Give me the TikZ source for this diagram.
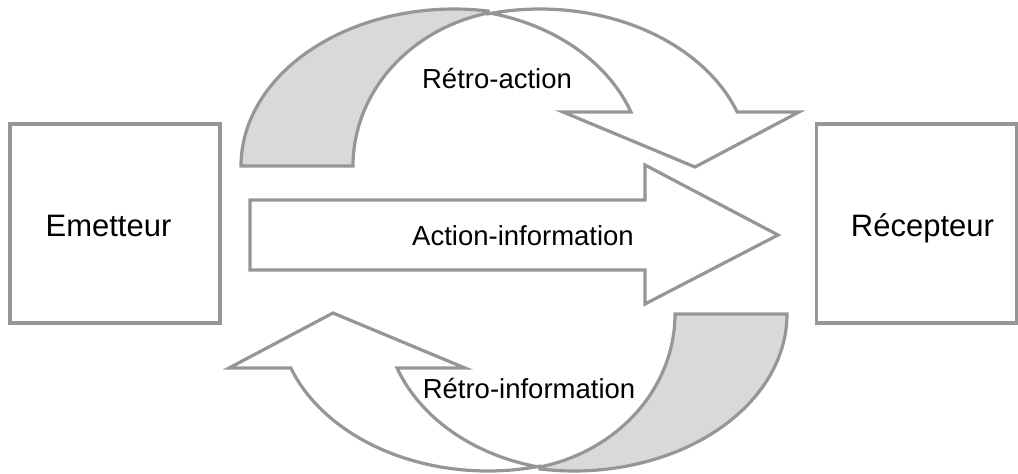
\documentclass[tikz,border=0pt]{standalone}
\usepackage{fontspec}
\setmainfont{Liberation Sans}
\definecolor{edgegray}{RGB}{150,150,150}
\definecolor{shadegray}{RGB}{217,217,217}
\begin{document}
\begin{tikzpicture}[x=1pt,y=-1pt,
  outline/.style={draw=edgegray,line width=3.2pt,line join=miter},
  backband/.style={outline,fill=shadegray},
  frontband/.style={outline,fill=white},
  boxnode/.style={outline,fill=white,minimum width=210pt,minimum height=199pt,inner sep=0pt},
  boxlabel/.style={anchor=base,inner sep=0pt,font=\fontsize{31}{37}\selectfont},
  arrowlabel/.style={anchor=base,inner sep=0pt,font=\fontsize{27.5}{33}\selectfont}]
\useasboundingbox (0,0) rectangle (1018,474);

% boxes
\node[boxnode] (emetteur) at (115,223.5) {};
\node[boxnode,minimum width=199.5pt] (recepteur) at (916.5,223.5) {};

% curved arrow (top), then its 180-degree copy (bottom)
\newcommand{\curvedarrow}{%
  \path[backband] plot[variable=\t,domain=180:80.8,samples=60] ({454+213*cos(\t)},{166-157*sin(\t)})
    -- plot[variable=\t,domain=102.95:180,samples=60] ({527+174*cos(\t)},{166-157*sin(\t)}) -- cycle;
  \path[frontband] plot[variable=\t,domain=77.46:20.1,samples=60] ({445+198*cos(\t)},{166-157*sin(\t)})
    -- (563,112) -- (695,167) -- (799,112)
    -- plot[variable=\t,domain=20.1:104.3,samples=60] ({540+210*cos(\t)},{166-157*sin(\t)}) -- cycle;}
\curvedarrow
\begin{scope}[rotate around={180:(514,240)}]
\curvedarrow
\end{scope}

% straight arrow
\path[frontband] (250,200) -- (645,200) -- (645,165) -- (778,235) -- (645,304) -- (645,270) -- (250,270) -- cycle;

% labels
\node[boxlabel] (emtext) at (108.5,236.5) {Emetteur};
\node[boxlabel] (rectext) at (922.5,236.5) {Récepteur};
\node[arrowlabel] (retroaction) at (497,88) {Rétro-action};
\node[arrowlabel] (action) at (523,245) {Action-information};
\node[arrowlabel] (retroinfo) at (529,398) {Rétro-information};
\end{tikzpicture}
\end{document}
